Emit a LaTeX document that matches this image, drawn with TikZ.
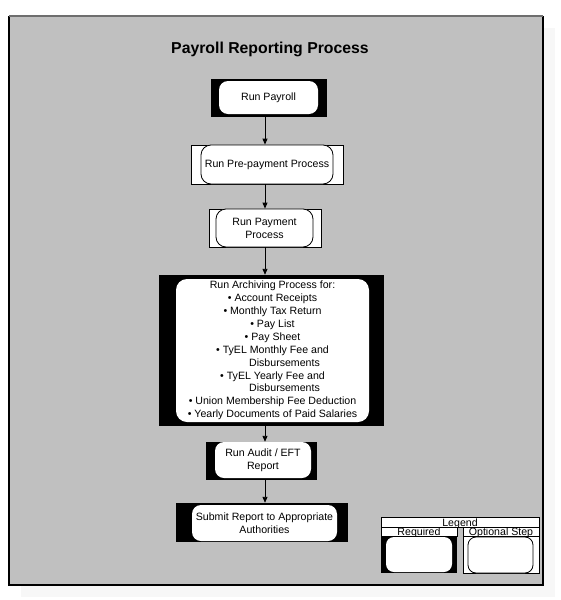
\documentclass[tikz,border=0pt]{standalone}
\usepackage{fontspec}
\setmainfont{Liberation Sans}
\usetikzlibrary{arrows.meta}
\definecolor{bggray}{HTML}{C0C0C0}
\definecolor{shadowgray}{HTML}{F7F7F7}
\definecolor{topedge}{HTML}{6E6E6E}
\begin{document}
\begin{tikzpicture}[x=1pt,y=-1pt,
  txt/.style={font=\fontsize{10.6}{12.9}\selectfont, align=center, inner sep=0pt},
  reqouter/.style={rectangle, fill=black, draw=none, inner sep=0pt},
  reqinner/.style={rectangle, rounded corners=9pt, fill=white, draw=none, txt},
  optouter/.style={rectangle, fill=white, draw=black, line width=0.8pt, inner sep=0pt},
  optinner/.style={rectangle, rounded corners=10pt, fill=white, draw=black, line width=0.8pt, txt},
  arr/.style={-{Triangle[length=6pt,width=5pt]}, line width=0.9pt},
  legbox/.style={rectangle, fill=white, draw=black, line width=0.7pt, inner sep=0pt}
]
\useasboundingbox (0,0) rectangle (561,600);
% shadow and frame
\fill[shadowgray] (21,28) rectangle (555,597);
\fill[bggray] (9,16) rectangle (543,585);
\draw[black, line width=1.2pt] (9,16) -- (9,585) -- (543,585) -- (543,16);
\draw[topedge, line width=1.4pt] (9,16) -- (543,16);

\node[font=\fontsize{15.8}{18}\selectfont\bfseries, inner sep=0pt] (title) at (270,49) {Payroll Reporting Process};

% Run Payroll (required)
\node[reqouter, minimum width=116pt, minimum height=38pt] (payroll) at (269,98) {};
\node[reqinner, minimum width=99pt, minimum height=33pt] (payroll-in) at (268.5,97.5) {Run Payroll};

% Pre-payment (optional)
\node[optouter, minimum width=152pt, minimum height=39pt] (prepay) at (267,164.5) {};
\node[optinner, minimum width=132pt, minimum height=39pt] (prepay-in) at (267,164.5) {Run Pre-payment Process};

% Payment (optional)
\node[optouter, minimum width=112pt, minimum height=38pt] (payment) at (265,228) {};
\node[optinner, minimum width=97pt, minimum height=38pt] (payment-in) at (264.5,228) {Run Payment\\Process};

% Archiving (required)
\node[reqouter, minimum width=225pt, minimum height=151pt] (archive) at (271.5,350.5) {};
\node[reqinner, rounded corners=11pt, minimum width=193pt, minimum height=143pt] (archive-in) at (272.5,350.5) {Run Archiving Process for:\\
\textbullet\ Account Receipts\\
\textbullet\ Monthly Tax Return\\
\textbullet\ Pay List\\
\textbullet\ Pay Sheet\\
\textbullet\ TyEL Monthly Fee and\\
\hspace*{24pt}Disbursements\\
\textbullet\ TyEL Yearly Fee and\\
\hspace*{24pt}Disbursements\\
\textbullet\ Union Membership Fee Deduction\\
\textbullet\ Yearly Documents of Paid Salaries};

% Audit (required)
\node[reqouter, minimum width=111pt, minimum height=38pt] (audit) at (261.5,461) {};
\node[reqinner, minimum width=96pt, minimum height=36pt] (audit-in) at (263,460) {Run Audit / EFT\\Report};

% Submit (required)
\node[reqouter, minimum width=172pt, minimum height=39pt] (submit) at (262,522.5) {};
\node[reqinner, minimum width=145pt, minimum height=36pt] (submit-in) at (264.5,523) {Submit Report to Appropriate\\Authorities};

% arrows
\coordinate (ax) at (265,0);
\draw[arr] (payroll.south -| ax) -- (prepay.north -| ax);
\draw[arr] (prepay.south -| ax) -- (payment.north -| ax);
\draw[arr] (payment.south -| ax) -- (archive.north -| ax);
\draw[arr] (archive.south -| ax) -- (audit.north -| ax);
\draw[arr] (audit.south -| ax) -- (submit.north -| ax);

% Legend
\node[legbox, minimum width=158pt, minimum height=10pt] (legend) at (460,522) {};
\node[txt, anchor=base] (legend-t) at (460,526) {Legend};
% Required column
\node[legbox, minimum width=76pt, minimum height=9pt] (reqhead) at (419,531.5) {};
\node[txt, anchor=base] (reqhead-t) at (419,535.5) {Required};
\node[reqouter, minimum width=76pt, minimum height=37pt] (reqbox) at (419,554.5) {};
\node[reqinner, rounded corners=8pt, minimum width=66pt, minimum height=35pt] (reqbox-in) at (419,554.5) {};
% Optional column
\node[legbox, minimum width=76pt, minimum height=46pt] (optcol) at (501,550) {};
\node[legbox, minimum width=76pt, minimum height=9pt] (opthead) at (501,531.5) {};
\node[txt, anchor=base] (opthead-t) at (501,535.5) {Optional Step};
\node[optinner, rounded corners=8pt, minimum width=65pt, minimum height=36pt] (optbox-in) at (500.5,555) {};
\end{tikzpicture}
\end{document}
